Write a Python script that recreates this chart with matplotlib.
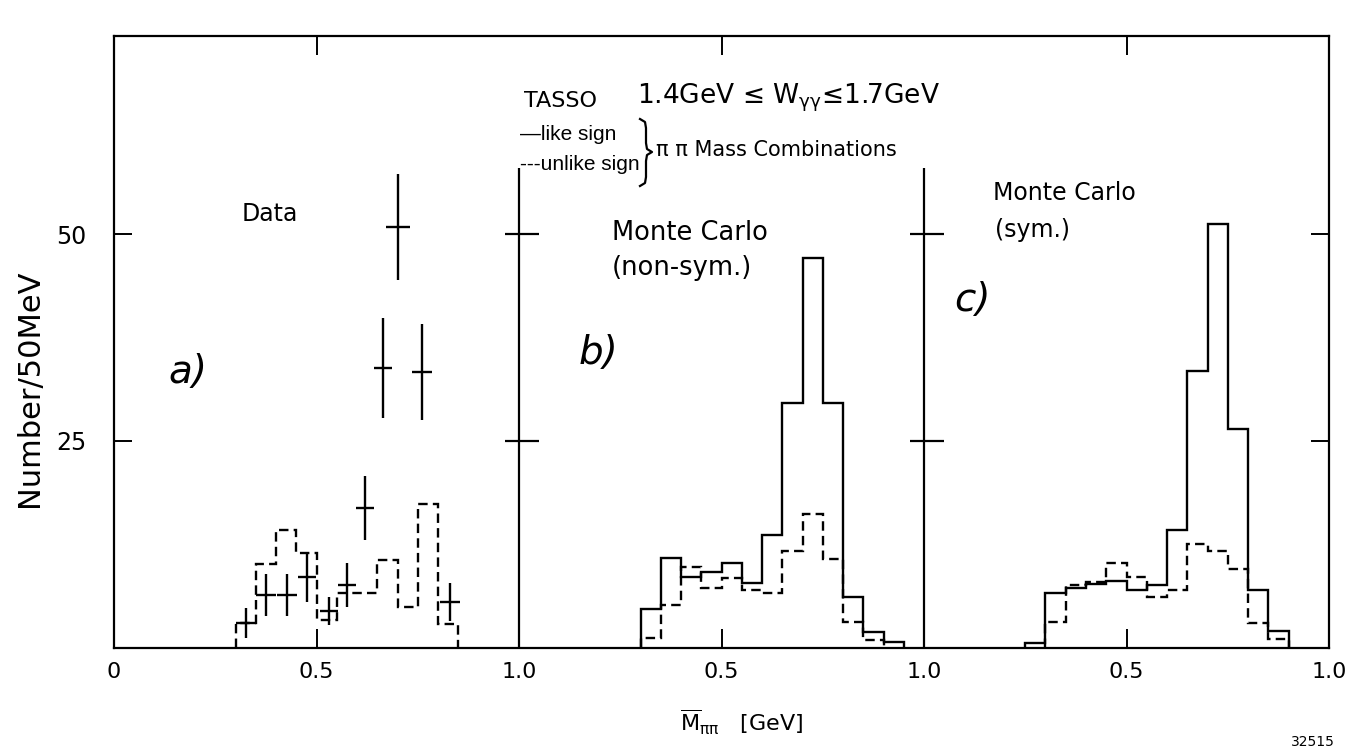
import matplotlib
matplotlib.use("Agg")
import matplotlib.pyplot as plt
from matplotlib.lines import Line2D
import numpy as np

plt.rcParams['font.family'] = ['DejaVu Sans']

# ---------------- data ----------------
# panel a) Data : unlike-sign histogram (dashed) + like-sign points (crosses)
edges_a = [0.30, 0.35, 0.40, 0.45, 0.50, 0.55, 0.60, 0.65, 0.70, 0.75, 0.80, 0.85]
unlike_a = [3.0, 10.2, 14.3, 11.5, 3.4, 6.6, 6.6, 10.6, 5.0, 17.4, 2.9]
like_a_x = [0.326, 0.375, 0.427, 0.477, 0.531, 0.575, 0.620, 0.664, 0.702, 0.760, 0.830]
like_a_y = [3.0, 6.4, 6.4, 8.6, 4.5, 7.6, 16.9, 33.8, 50.8, 33.3, 5.6]
like_a_err = [1.8, 2.5, 2.5, 3.0, 1.7, 2.7, 3.9, 6.0, 6.4, 5.8, 2.3]
like_a_xerr = [0.025, 0.025, 0.025, 0.022, 0.022, 0.022, 0.022, 0.022, 0.03, 0.025, 0.025]

# panel b) Monte Carlo (non-sym.)
edges_b_like = [0.30, 0.35, 0.40, 0.45, 0.50, 0.55, 0.60, 0.65, 0.70, 0.75, 0.80, 0.85, 0.90, 0.95]
like_b = [4.7, 10.9, 8.6, 9.2, 10.3, 7.8, 13.7, 29.6, 47.1, 29.6, 6.2, 1.9, 0.7]
edges_b_unlike = [0.30, 0.35, 0.40, 0.45, 0.50, 0.55, 0.60, 0.65, 0.70, 0.75, 0.80, 0.85, 0.90]
unlike_b = [1.2, 5.2, 9.8, 7.2, 8.5, 7.0, 6.6, 11.7, 16.2, 10.8, 3.1, 1.0]

# panel c) Monte Carlo (sym.)
edges_c_like = [0.25, 0.30, 0.35, 0.40, 0.45, 0.50, 0.55, 0.60, 0.65, 0.70, 0.75, 0.80, 0.85, 0.90]
like_c = [0.6, 6.7, 7.3, 7.7, 8.1, 7.0, 7.6, 14.2, 33.4, 51.2, 26.4, 7.0, 2.0]
edges_c_unlike = [0.30, 0.35, 0.40, 0.45, 0.50, 0.55, 0.60, 0.65, 0.70, 0.75, 0.80, 0.85, 0.90]
unlike_c = [3.1, 7.6, 8.0, 10.3, 8.6, 6.1, 7.0, 12.6, 11.7, 9.6, 3.0, 1.1]

panel_offsets = [0.0, 1.0, 2.0]
y_ticks = [25, 50]
y_tick_labels = ['25', '50']
x_major = [0.5, 1.5, 2.5]
x_major_labels = ['0.5', '0.5', '0.5']
x_minor = [0.0, 1.0, 2.0, 3.0]
x_minor_labels = ['0', '1.0', '1.0', '1.0']

# ---------------- figure ----------------
W, H = 1365, 756
fig = plt.figure(figsize=(W / 100, H / 100), dpi=100)
left_px, right_px, top_px, bot_px = 114, 1329, 36, 648
ax = fig.add_axes([left_px / W, 1 - bot_px / H, (right_px - left_px) / W, (bot_px - top_px) / H])
ax.set_xlim(0, 3)
ax.set_ylim(0, (bot_px - top_px) / 8.28)
for s in ax.spines.values():
    s.set_linewidth(1.6)

lw = 1.7
dash = (0, (4.0, 2.2))

oa, ob, oc = panel_offsets
# panel a
ax.stairs(unlike_a, np.array(edges_a) + oa, color='black', lw=lw, linestyle=dash, baseline=0)
ax.errorbar(np.array(like_a_x) + oa, like_a_y, yerr=like_a_err, xerr=like_a_xerr,
            fmt='none', ecolor='black', elinewidth=1.7, capsize=0)
# panel b
ax.stairs(like_b, np.array(edges_b_like) + ob, color='black', lw=lw, baseline=0)
ax.stairs(unlike_b, np.array(edges_b_unlike) + ob, color='black', lw=lw, linestyle=dash, baseline=0)
# panel c
ax.stairs(like_c, np.array(edges_c_like) + oc, color='black', lw=lw, baseline=0)
ax.stairs(unlike_c, np.array(edges_c_unlike) + oc, color='black', lw=lw, linestyle=dash, baseline=0)

# panel dividers with crossing ticks
for d in panel_offsets[1:]:
    ax.vlines(d, 0, 58, color='black', lw=1.6)
    ax.hlines(y_ticks, d - 0.035, d + 0.05, color='black', lw=1.6)

# ticks
ax.set_xticks(x_major)
ax.set_xticklabels(x_major_labels)
ax.set_xticks(x_minor, minor=True)
ax.set_xticklabels(x_minor_labels, minor=True)
ax.tick_params(axis='x', which='major', direction='in', length=14, width=1.4,
               top=True, labelsize=16, pad=10)
ax.tick_params(axis='x', which='minor', direction='in', length=0, labelsize=16, pad=10)
ax.set_yticks(y_ticks)
ax.set_yticklabels(y_tick_labels)
ax.tick_params(axis='y', direction='in', length=13, width=1.4, right=True,
               labelsize=17, pad=20)

def ftext(px, py, s, **kw):
    fig.text(px / W, 1 - py / H, s, **kw)

narrow = ['Liberation Sans', 'DejaVu Sans']

# header / legend texts
ftext(524, 101, 'TASSO', fontsize=16, va='center', ha='left')
ftext(637, 98, r'1.4GeV ≤ W$_{\mathregular{γγ}}$≤1.7GeV', fontsize=19, va='center', ha='left')
ftext(520, 135, '—like sign', fontsize=15, va='center', ha='left', family=narrow)
ftext(520, 165, '---unlike sign', fontsize=15, va='center', ha='left', family=narrow)
ftext(656, 150, 'π π Mass Combinations', fontsize=15, va='center', ha='left')

# curly brace drawn as a thin line (decoration)
brace_px = [(640, 119), (645, 122), (646, 128), (646, 143), (647, 149), (652, 152),
            (647, 155), (646, 161), (646, 177), (645, 183), (640, 186)]
fig.add_artist(Line2D([p[0] / W for p in brace_px], [1 - p[1] / H for p in brace_px],
                      color='black', lw=1.6, transform=fig.transFigure))

# panel texts
ftext(242, 214, 'Data', fontsize=17, va='center', ha='left')
ftext(612, 233, 'Monte Carlo', fontsize=18.5, va='center', ha='left')
ftext(612, 268, '(non-sym.)', fontsize=18.5, va='center', ha='left')
ftext(993, 193, 'Monte Carlo', fontsize=17, va='center', ha='left')
ftext(995, 230, '(sym.)', fontsize=17, va='center', ha='left')
ftext(188, 372, 'a)', fontsize=28, style='italic', va='center', ha='center')
ftext(598, 353, 'b)', fontsize=28, style='italic', va='center', ha='center')
ftext(972, 300, 'c)', fontsize=28, style='italic', va='center', ha='center')

# axis labels
ftext(30, 388, 'Number/50MeV', fontsize=22, rotation=90, va='center', ha='center')
ftext(680, 722, r'$\overline{\mathrm{M}}_{\mathregular{ππ}}$   [GeV]', fontsize=16, va='center', ha='left')
ftext(1313, 742, '32515', fontsize=10, va='center', ha='center')

fig.savefig('out.png', dpi=100)
